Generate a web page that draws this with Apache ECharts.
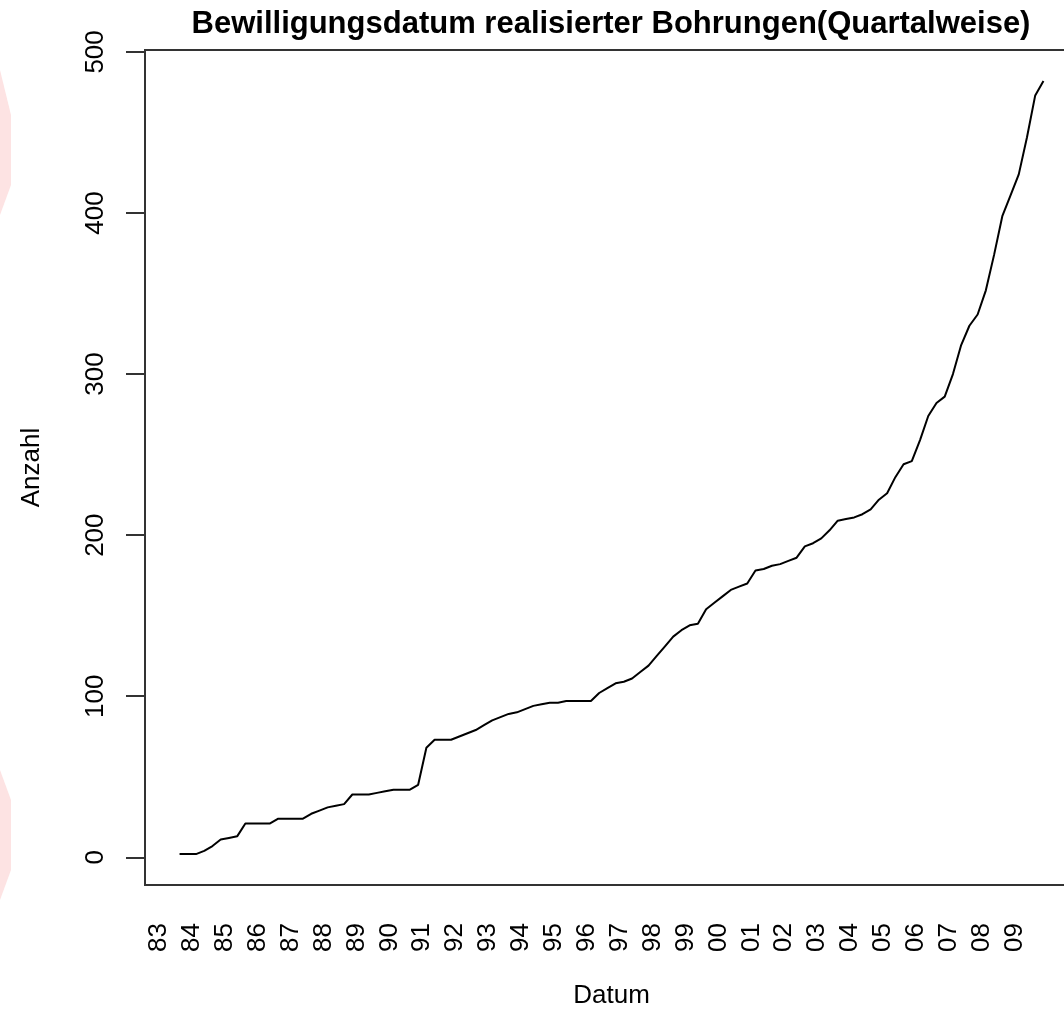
<!DOCTYPE html>
<html>
<head>
<meta charset="utf-8">
<script src="https://cdn.jsdelivr.net/npm/echarts@6/dist/echarts.min.js"></script>
<style>
  html, body { margin: 0; padding: 0; background: #fff; }
  #chart { width: 1064px; height: 1011px; }
</style>
</head>
<body>
<div id="chart"></div>
<script>
  // Quartalswerte ab 1983 Q3, kumulierte Anzahl
  const startYear = 1983;
  const startQuarter = 3;
  const anzahl = [
    2, 2, 2, 4, 7, 11, 12, 13, 21, 21,
    21, 21, 24, 24, 24, 24, 27, 29, 31, 32,
    33, 39, 39, 39, 40, 41, 42, 42, 42, 45,
    68, 73, 73, 73, 75, 77, 79, 82, 85, 87,
    89, 90, 92, 94, 95, 96, 96, 97, 97, 97,
    97, 102, 105, 108, 109, 111, 115, 119, 125, 131,
    137, 141, 144, 145, 154, 158, 162, 166, 168, 170,
    178, 179, 181, 182, 184, 186, 193, 195, 198, 203,
    209, 210, 211, 213, 216, 222, 226, 236, 244, 246,
    259, 274, 282, 286, 300, 318, 330, 337, 352, 374,
    398, 411, 424, 447, 473, 482
  ];
  const yearTicks = [1983, 1984, 1985, 1986, 1987, 1988, 1989, 1990, 1991, 1992,
    1993, 1994, 1995, 1996, 1997, 1998, 1999, 2000, 2001, 2002,
    2003, 2004, 2005, 2006, 2007, 2008, 2009];
  const yTicks = [0, 100, 200, 300, 400, 500];

  const font = 'Liberation Sans, Arial, sans-serif';
  const ink = '#000';

  // Quartalsmitte als x-Position
  const data = anzahl.map((v, i) => [startYear + (startQuarter - 1 + i + 0.5) / 4, v]);

  const chart = echarts.init(document.getElementById('chart'), null, { renderer: 'canvas' });
  chart.setOption({
    animation: false,
    backgroundColor: '#fff',
    graphic: [
      {
        type: 'polygon',
        shape: { points: [[0, 70], [11, 115], [11, 185], [0, 215]] },
        style: { fill: '#fde3e3' },
        silent: true
      },
      {
        type: 'polygon',
        shape: { points: [[0, 770], [11, 800], [11, 870], [0, 900]] },
        style: { fill: '#fde3e3' },
        silent: true
      },
      {
        type: 'text',
        x: 611,
        y: 9,
        style: {
          text: 'Bewilligungsdatum realisierter Bohrungen(Quartalweise)',
          font: 'bold 31px ' + font,
          fill: '#000',
          textAlign: 'center'
        }
      }
    ],
    grid: {
      left: 145, right: -14, top: 50, bottom: 126,
      outerBoundsMode: 'none',
      show: true, borderColor: '#333', borderWidth: 2, backgroundColor: 'transparent'
    },
    xAxis: {
      type: 'value',
      min: 1982.575,
      max: 2010.925,
      name: 'Datum',
      nameLocation: 'middle',
      nameGap: 98,
      nameTextStyle: { color: ink, fontFamily: font, fontSize: 26 },
      axisLine: { show: false },
      axisTick: { show: false },
      splitLine: { show: false },
      axisLabel: {
        customValues: yearTicks,
        rotate: 90,
        margin: 38,
        color: ink,
        fontFamily: font,
        fontSize: 26,
        formatter: (v) => String(v % 100).padStart(2, '0')
      }
    },
    yAxis: {
      type: 'value',
      min: -17.2,
      max: 501.2,
      name: 'Anzahl',
      nameLocation: 'middle',
      nameGap: 100,
      nameRotate: 90,
      nameTextStyle: { color: ink, fontFamily: font, fontSize: 26 },
      axisLine: { show: false },
      axisTick: {
        show: true,
        customValues: yTicks,
        length: 19,
        lineStyle: { color: '#333', width: 2 }
      },
      splitLine: { show: false },
      axisLabel: {
        customValues: yTicks,
        rotate: 90,
        margin: 36,
        color: ink,
        fontFamily: font,
        fontSize: 26
      }
    },
    series: [{
      type: 'line',
      data,
      showSymbol: false,
      smooth: false,
      lineStyle: { color: '#000', width: 2 },
      emphasis: { disabled: true }
    }]
  });
</script>
</body>
</html>
